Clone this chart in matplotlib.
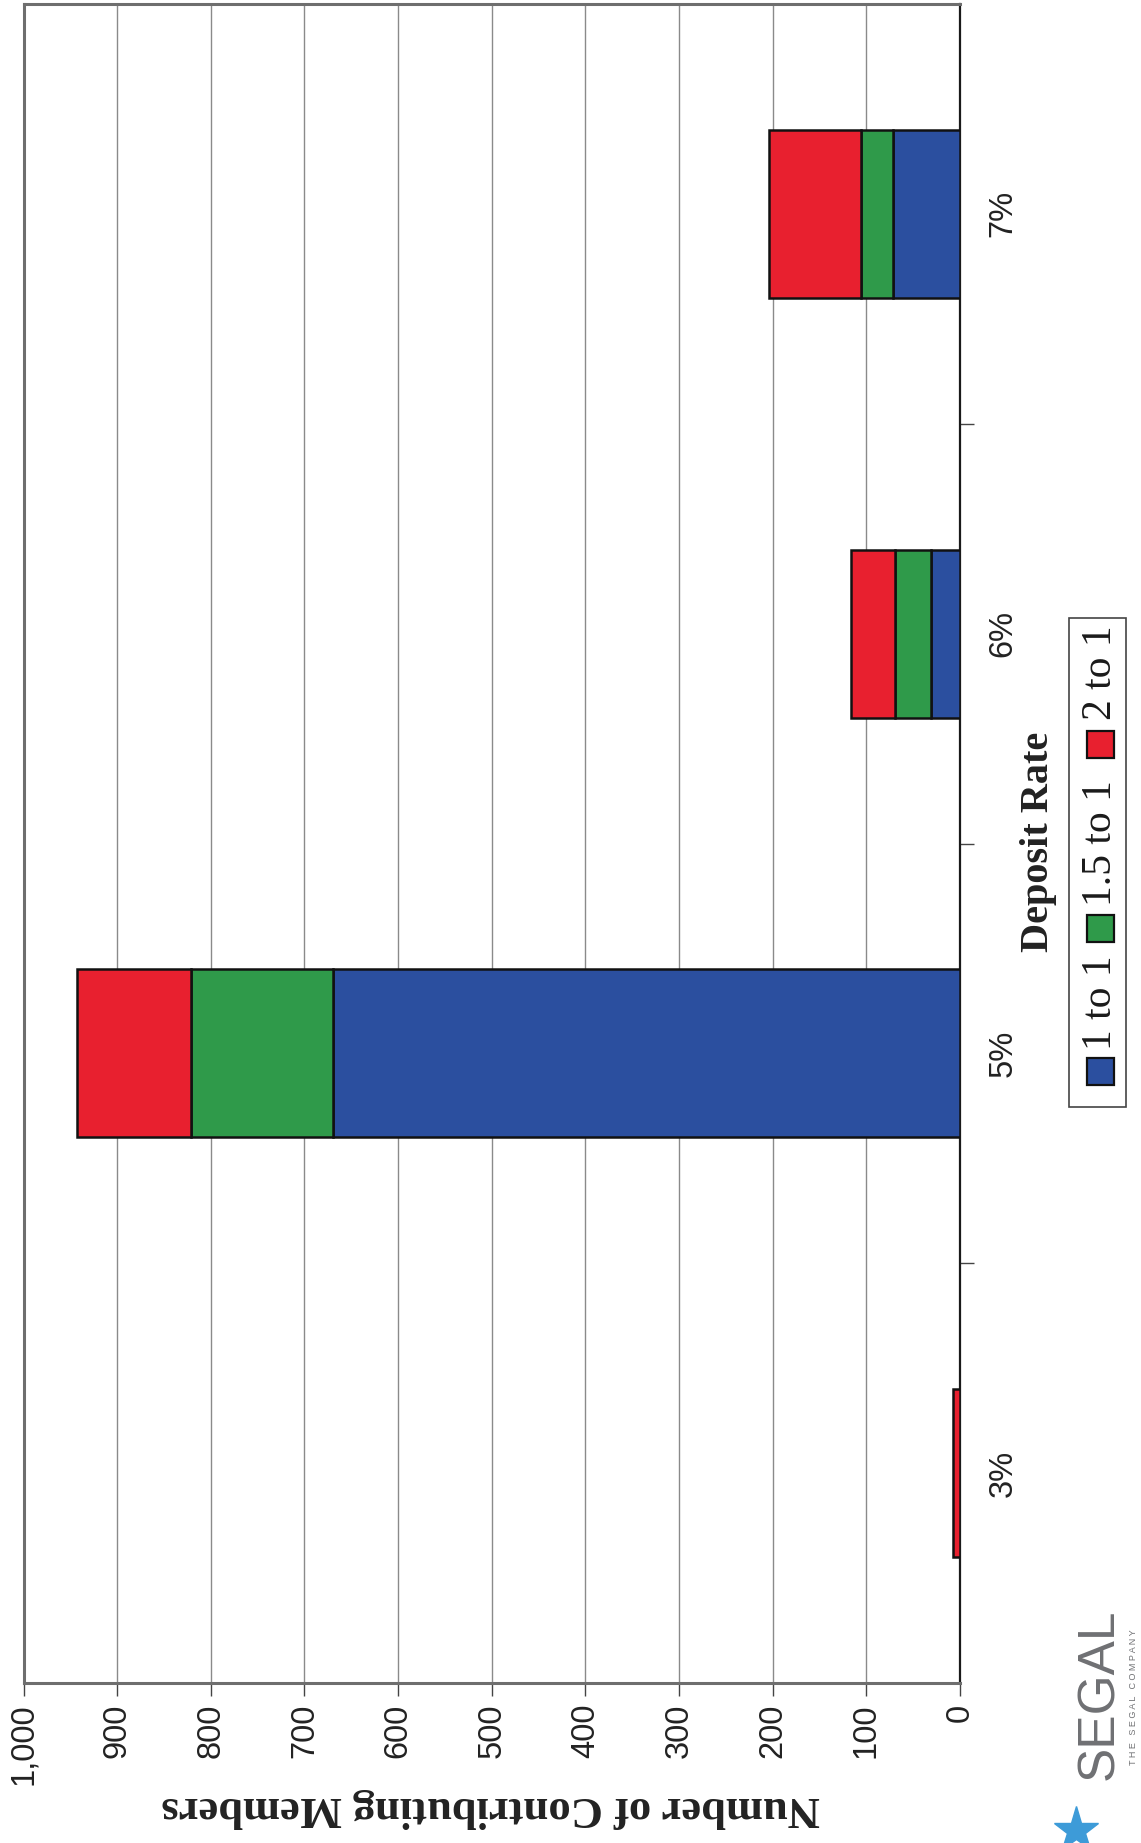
import matplotlib
matplotlib.use("Agg")
import matplotlib.pyplot as plt
from matplotlib.patches import Rectangle
from matplotlib.lines import Line2D
from matplotlib.ticker import FuncFormatter, MultipleLocator, FixedLocator

plt.rcParams["font.family"] = ["Liberation Sans", "DejaVu Sans"]

# Contributing members by deposit rate and matching ratio
categories = ["3%", "5%", "6%", "7%"]
one_to_one = [0, 669, 31, 72]
one_five_to_one = [0, 152, 38, 34]
two_to_one = [7, 122, 47, 98]
series_names = ["1 to 1", "1.5 to 1", "2 to 1"]
series_colors = ["#2b4f9f", "#2f9a4a", "#e8202f"]

W, H = 1141, 1843
fig = plt.figure(figsize=(W / 100, H / 100), dpi=100)
fig.patch.set_facecolor("white")


def fx(px):
    return px / W


def fy(py):
    return 1 - py / H


# Page is laid out sideways: values run right-to-left, categories bottom-to-top
ax_left, ax_right, ax_top, ax_bottom = 23.5, 960, 4, 1683
ax = fig.add_axes([fx(ax_left), fy(ax_bottom), fx(ax_right - ax_left), (ax_bottom - ax_top) / H])

ypos = list(range(len(categories)))
lefts = [0] * len(categories)
for vals, name, color in zip([one_to_one, one_five_to_one, two_to_one], series_names, series_colors):
    ax.barh(ypos, vals, height=0.4, left=lefts, color=color, edgecolor="#111111",
            linewidth=1.8, label=name, zorder=3)
    lefts = [a + b for a, b in zip(lefts, vals)]

ax.set_xlim(1000, 0)
ax.set_ylim(-0.5, len(categories) - 0.5)

ax.xaxis.set_major_locator(MultipleLocator(100))
ax.xaxis.set_major_formatter(FuncFormatter(lambda v, p: f"{v:,.0f}"))
ax.grid(axis="x", color="#8a8a8a", linewidth=1.0, zorder=0)

ax.set_yticks(ypos)
ax.set_yticklabels(categories)
ax.yaxis.set_minor_locator(FixedLocator([0.5, 1.5, 2.5]))
ax.yaxis.tick_right()

ax.tick_params(axis="x", which="major", direction="out", length=9, width=1.0,
               color="#444444", labelsize=23.5, labelrotation=90, pad=6,
               labelcolor="#222222")
ax.tick_params(axis="y", which="major", length=0, labelsize=23.5, labelrotation=90,
               pad=20, labelcolor="#222222")
ax.tick_params(axis="y", which="minor", direction="out", length=10, width=1.0,
               color="#444444")
for lab in ax.get_yticklabels():
    lab.set_verticalalignment("center")

for side in ["left", "top", "bottom"]:
    ax.spines[side].set_color("#6e6e6e")
    ax.spines[side].set_linewidth(2.2)
ax.spines["right"].set_color("#1a1a1a")
ax.spines["right"].set_linewidth(1.6)

# Axis titles
ax.set_xlabel("Number of Contributing Members", fontfamily="Liberation Serif",
              fontweight="bold", fontsize=32, rotation=180, color="#222222")
ax.xaxis.label.set_verticalalignment("center")
ax.xaxis.set_label_coords(0.499, -0.0744)

ax.yaxis.set_label_position("right")
ax.set_ylabel("Deposit Rate", fontfamily="Liberation Serif", fontweight="bold",
              fontsize=29, rotation=90, color="#222222")
ax.yaxis.label.set_verticalalignment("center")
ax.yaxis.set_label_coords(1.084, 0.501)

# Legend, drawn sideways to follow the page orientation
fig.patches.append(Rectangle((fx(1069), fy(1107)), fx(1126 - 1069), (1107 - 618) / H,
                             transform=fig.transFigure, facecolor="white",
                             edgecolor="#444444", linewidth=1.2))
legend_items = [
    (series_names[0], series_colors[0], 1085, 1050),
    (series_names[1], series_colors[1], 942, 906),
    (series_names[2], series_colors[2], 758, 720),
]
for name, color, sq_bottom, txt_bottom in legend_items:
    fig.patches.append(Rectangle((fx(1087), fy(sq_bottom)), fx(27), 27 / H,
                                 transform=fig.transFigure, facecolor=color,
                                 edgecolor="#111111", linewidth=1.6))
    fig.text(fx(1101), fy(txt_bottom), name, rotation=90, ha="center", va="bottom",
             fontfamily="Liberation Serif", fontsize=30, color="#1a1a1a")

# Company mark
fig.text(fx(1100), fy(1694), "SEGAL", rotation=90, ha="center", va="center",
         fontfamily="Liberation Sans", fontsize=37, color="#6f7073")
fig.text(fx(1133), fy(1697), "T H E   S E G A L   C O M P A N Y", rotation=90,
         ha="center", va="center", fontfamily="Liberation Sans", fontsize=6.5,
         color="#6f7073")
fig.lines.append(Line2D([fx(1076)], [fy(1830)], transform=fig.transFigure,
                        marker="*", markersize=34, color="#3d9bd8", linestyle="none"))

fig.savefig("out.png", dpi=100, facecolor="white")
